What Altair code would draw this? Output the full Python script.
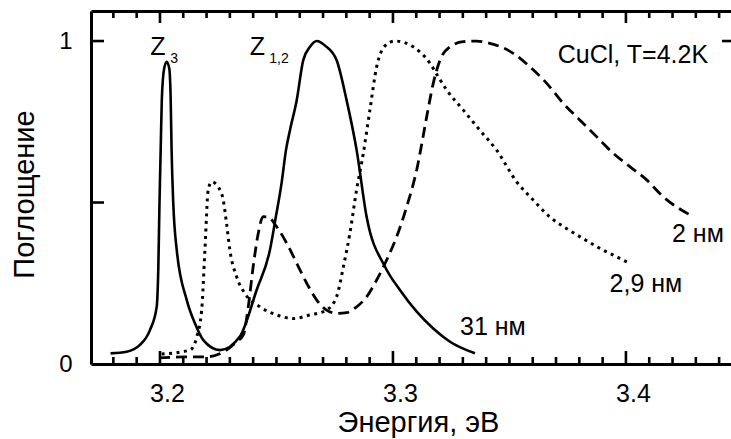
import altair as alt
import pandas as pd

# ---- data (energy in eV, absorption normalised) ----
# 31 nm sample (solid)
e_31 = [3.1788, 3.1857, 3.1914, 3.1957, 3.1986, 3.1993, 3.1998, 3.2003, 3.2008, 3.2018, 3.2029,
        3.2040, 3.2046, 3.2050, 3.2057, 3.2072, 3.2115, 3.2150, 3.2186, 3.2258, 3.2343, 3.2415,
        3.2472, 3.2498, 3.2522, 3.2541, 3.2558, 3.2587, 3.2615, 3.2644, 3.2673, 3.2710, 3.2758,
        3.2801, 3.2844, 3.2887, 3.2966, 3.3030, 3.3102, 3.3173, 3.3245, 3.3352]
a_31 = [0.033, 0.038, 0.059, 0.105, 0.177, 0.300, 0.500, 0.660, 0.820, 0.915, 0.936,
        0.915, 0.820, 0.660, 0.500, 0.353, 0.198, 0.126, 0.074, 0.043, 0.085, 0.229,
        0.353, 0.458, 0.560, 0.663, 0.724, 0.817, 0.941, 0.982, 1.000, 0.985, 0.941,
        0.817, 0.663, 0.456, 0.301, 0.229, 0.162, 0.110, 0.069, 0.033]

# 2.9 nm sample (dotted)
e_29 = [3.2007, 3.2129, 3.2158, 3.2179, 3.2193, 3.2207, 3.2222, 3.2250, 3.2272, 3.2286, 3.2300,
        3.2329, 3.2365, 3.2429, 3.2501, 3.2572, 3.2644, 3.2715, 3.2758, 3.2787, 3.2815, 3.2844,
        3.2873, 3.2901, 3.2930, 3.2966, 3.3009, 3.3087, 3.3159, 3.3194, 3.3231, 3.3302, 3.3373,
        3.3445, 3.3531, 3.3602, 3.3674, 3.3746, 3.3817, 3.3888, 3.3960, 3.4017]
a_29 = [0.031, 0.043, 0.084, 0.167, 0.353, 0.539, 0.564, 0.548, 0.506, 0.434, 0.353,
        0.270, 0.218, 0.177, 0.152, 0.141, 0.152, 0.167, 0.208, 0.300, 0.404, 0.539,
        0.653, 0.786, 0.920, 0.985, 1.000, 0.982, 0.931, 0.890, 0.848, 0.786, 0.724,
        0.662, 0.564, 0.508, 0.455, 0.419, 0.388, 0.358, 0.332, 0.311]

# 2 nm sample (dashed)
e_2 = [3.1996, 3.2107, 3.2193, 3.2279, 3.2329, 3.2358, 3.2379, 3.2400, 3.2422, 3.2443, 3.2464,
       3.2501, 3.2544, 3.2587, 3.2630, 3.2673, 3.2715, 3.2758, 3.2801, 3.2844, 3.2887, 3.2930,
       3.2973, 3.3016, 3.3059, 3.3102, 3.3145, 3.3173, 3.3202, 3.3245, 3.3302, 3.3359, 3.3416,
       3.3516, 3.3588, 3.3660, 3.3731, 3.3803, 3.3874, 3.3946, 3.4017, 3.4089, 3.4160, 3.4289]
a_2 = [0.019, 0.022, 0.022, 0.040, 0.069, 0.090, 0.177, 0.301, 0.405, 0.456, 0.455,
       0.425, 0.374, 0.312, 0.250, 0.198, 0.167, 0.157, 0.159, 0.177, 0.208, 0.260,
       0.322, 0.394, 0.487, 0.601, 0.766, 0.869, 0.941, 0.982, 0.998, 1.000, 0.993,
       0.962, 0.920, 0.869, 0.807, 0.755, 0.704, 0.652, 0.611, 0.570, 0.518, 0.456]

x_major = [3.2, 3.3, 3.4]
x_minor = [3.18, 3.19, 3.21, 3.22, 3.23, 3.24, 3.25, 3.26, 3.27, 3.28, 3.29,
           3.31, 3.32, 3.33, 3.34, 3.35, 3.36, 3.37, 3.38, 3.39,
           3.41, 3.42, 3.43, 3.44]
y_values = [0, 0.5, 1]
y_inner_ticks = [0.5, 1.0]
right_ticks = [1.0]

big_labels = ["Z", "Z"]
big_e = [3.1991, 3.2418]
big_a = [0.957, 0.957]
sub_labels = ["3", "1,2"]
sub_e = [3.2061, 3.2511]
sub_a = [0.931, 0.931]
note_labels = ["CuCl, T=4.2K", "2 нм", "2,9 нм", "31 нм"]
note_e = [3.4030, 3.4309, 3.4086, 3.3429]
note_a = [0.931, 0.379, 0.224, 0.090]

# ---- layout ----
W, H = 640, 353
X_MIN, X_MAX = 3.1704, 3.4451
Y_MIN, Y_MAX = 0.0, 1.093
FONT = "Liberation Sans"
xs = alt.Scale(domain=[X_MIN, X_MAX], nice=False, zero=False)
ys = alt.Scale(domain=[Y_MIN, Y_MAX], nice=False, zero=False)
TW = 2.6  # tick thickness

x_bottom = alt.Axis(orient="bottom", values=x_major, format=".1f", ticks=False, tickSize=0,
                    grid=False, domainColor="black", domainWidth=3, labelFontSize=25,
                    labelFont=FONT, labelColor="black", labelPadding=17, labelOffset=7,
                    title="Энергия, эВ", titleFont=FONT, titleFontSize=29,
                    titleFontWeight="normal", titleColor="black",
                    titleX=327, titleY=67, titleBaseline="alphabetic", titleAnchor="middle")
y_left = alt.Axis(orient="left", values=y_values, ticks=False, tickSize=0, grid=False,
                  domainColor="black", domainWidth=3, labelFontSize=24, labelFont=FONT,
                  labelColor="black", labelPadding=19,
                  labelExpr="datum.value == 1 ? '1' : (datum.value == 0 ? '0' : '')",
                  title="Поглощение", titleFont=FONT, titleFontSize=29,
                  titleFontWeight="normal", titleColor="black",
                  titleX=-67, titleY=183, titleAngle=270, titleBaseline="middle",
                  titleAnchor="middle")
x_top = alt.Axis(orient="top", labels=False, ticks=False, tickSize=0, grid=False,
                 domainColor="black", domainWidth=3, title=None)

df31 = pd.DataFrame({"E": e_31, "A": a_31})
df29 = pd.DataFrame({"E": e_29, "A": a_29})
df2 = pd.DataFrame({"E": e_2, "A": a_2})

solid = alt.Chart(df31).mark_line(color="black", strokeWidth=2.6, interpolate="monotone").encode(
    x=alt.X("E:Q", scale=xs, axis=x_bottom),
    y=alt.Y("A:Q", scale=ys, axis=y_left),
)
dotted = alt.Chart(df29).mark_line(color="black", strokeWidth=3, strokeDash=[3, 4.5],
                                   interpolate="monotone").encode(
    x=alt.X("E:Q", scale=xs, axis=None),
    y=alt.Y("A:Q", scale=ys, axis=None),
)
dashed = alt.Chart(df2).mark_line(color="black", strokeWidth=2.8, strokeDash=[11, 6],
                                  interpolate="monotone").encode(
    x=alt.X("E:Q", scale=xs, axis=None),
    y=alt.Y("A:Q", scale=ys, axis=None),
)


# inward tick marks: rules anchored on the frame (both x and y as fields)
def xtick(vals, edge, end_px, axis=None):
    df = pd.DataFrame({"E": vals, "A": [edge] * len(vals)})
    return alt.Chart(df).mark_rule(color="black", strokeWidth=TW, strokeCap="butt").encode(
        x=alt.X("E:Q", scale=xs, axis=axis),
        y=alt.Y("A:Q", scale=ys, axis=None),
        y2=alt.value(end_px))


def ytick(vals, edge, end_px):
    df = pd.DataFrame({"A": vals, "E": [edge] * len(vals)})
    return alt.Chart(df).mark_rule(color="black", strokeWidth=TW, strokeCap="butt").encode(
        y=alt.Y("A:Q", scale=ys, axis=None),
        x=alt.X("E:Q", scale=xs, axis=None),
        x2=alt.value(end_px))


top_major = xtick(x_major, Y_MAX, 12, axis=x_top)
top_minor = xtick(x_minor, Y_MAX, 7)
bot_major = xtick(x_major, Y_MIN, H - 13)
bot_minor = xtick(x_minor, Y_MIN, H - 7)
left_ticks = ytick(y_inner_ticks, X_MIN, 13)
right_tick = ytick(right_ticks, X_MAX, W - 9)

big = alt.Chart(pd.DataFrame({"E": big_e, "A": big_a, "t": big_labels})).mark_text(
    font=FONT, fontSize=25, color="black", align="center", baseline="alphabetic").encode(
    x=alt.X("E:Q", scale=xs, axis=None), y=alt.Y("A:Q", scale=ys, axis=None), text="t:N")
sub = alt.Chart(pd.DataFrame({"E": sub_e, "A": sub_a, "t": sub_labels})).mark_text(
    font=FONT, fontSize=14, color="black", align="center", baseline="alphabetic").encode(
    x=alt.X("E:Q", scale=xs, axis=None), y=alt.Y("A:Q", scale=ys, axis=None), text="t:N")
notes = alt.Chart(pd.DataFrame({"E": note_e, "A": note_a, "t": note_labels})).mark_text(
    font=FONT, fontSize=25, color="black", align="center", baseline="alphabetic").encode(
    x=alt.X("E:Q", scale=xs, axis=None), y=alt.Y("A:Q", scale=ys, axis=None), text="t:N")

chart = alt.layer(
    solid, dotted, dashed, top_major, top_minor, bot_major, bot_minor,
    left_ticks, right_tick, big, sub, notes
).resolve_axis(x="independent", y="independent").properties(
    width=W, height=H,
    autosize=alt.AutoSizeParams(type="none"),
    padding={"left": 91, "top": 11, "right": 0, "bottom": 75},
    background="white",
).configure_view(strokeWidth=0)

chart.save("out.html", embed_options={"renderer": "svg", "actions": False})
